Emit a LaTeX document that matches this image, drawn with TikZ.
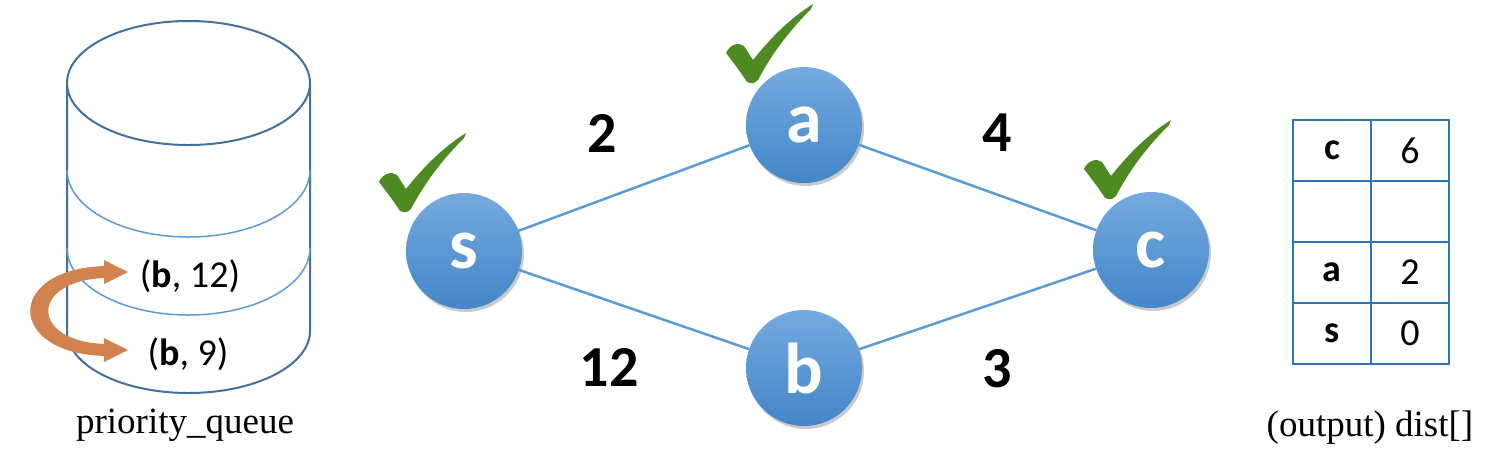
\documentclass[tikz,border=0pt]{standalone}
\usepackage{fontspec}
\setmainfont{Liberation Serif}
\newfontfamily\calfont{Carlito}
\usetikzlibrary{shadows,arrows.meta}
\definecolor{cylblue}{HTML}{41719C}
\definecolor{lineblue}{HTML}{5B9BD5}
\definecolor{tabblue}{HTML}{2E75B6}
\definecolor{topblue}{HTML}{74AADF}
\definecolor{botblue}{HTML}{4386C8}
\definecolor{chkgreen}{HTML}{4E8A22}
\definecolor{arrorange}{HTML}{D1834F}
\tikzset{
  vertex/.style={circle, minimum size=116pt, inner sep=0pt, top color=topblue, bottom color=botblue,
    drop shadow={shadow xshift=2pt, shadow yshift=-3pt, opacity=0.35, fill=black!60},
    text=white, font=\calfont\bfseries\fontsize{72}{72}\selectfont},
  edge/.style={draw=lineblue, line width=2.5pt},
  wlabel/.style={font=\calfont\bfseries\fontsize{58}{58}\selectfont, text=black},
  cell/.style={draw=tabblue, line width=2pt, minimum width=78pt, minimum height=61pt, inner sep=0pt,
    font=\calfont\fontsize{38}{38}\selectfont},
  boldcell/.style={cell, font=\calfont\bfseries\fontsize{38}{38}\selectfont},
  qtext/.style={font=\calfont\fontsize{38}{38}\selectfont},
  caption/.style={font=\fontsize{37}{37}\selectfont},
  chk/.pic={\fill[chkgreen] (0,0) .. controls (-8,12) .. (-21,29) .. controls (-17,38) and (-8,40) .. (-3,36)
     -- (6,22) .. controls (25,46) and (45,65) .. (66,78) -- (64,73)
     .. controls (38,47) and (22,23) .. (11,2) .. controls (6,-2) .. (0,0) -- cycle;}
}
\begin{document}
\begin{tikzpicture}[x=1pt,y=1pt]
\useasboundingbox (0,0) rectangle (1498,-467);
% cylinder
\draw[cylblue, line width=2pt] (67,-83) -- (67,-331) arc[start angle=180, end angle=360, x radius=121.5, y radius=62] -- (310,-83);
\draw[cylblue, line width=2pt, fill=white] (188.5,-83) ellipse[x radius=121.5, y radius=62];
\draw[lineblue, line width=1.5pt] (67,-170) arc[start angle=180, end angle=360, x radius=121.5, y radius=67];
\draw[lineblue, line width=1.5pt] (67,-248) arc[start angle=180, end angle=360, x radius=121.5, y radius=67];
\node[qtext] (q1) at (190,-276) {({\bfseries b}, 12)};
\node[qtext] (q2) at (188,-354) {({\bfseries b}, 9)};
% curved orange double arrow
\fill[arrorange] (106,-266) .. controls (5,-268) and (5,-354) .. (106,-356)
  -- (106,-344) .. controls (29,-342) and (29,-280) .. (106,-278) -- cycle;
\fill[arrorange] (104,-260) -- (128,-272) -- (104,-284) -- cycle;
\fill[arrorange] (104,-338) -- (128,-350) -- (104,-362) -- cycle;
\node[caption] (pq) at (185,-425) {priority\_queue};
% graph
\node[vertex] (s) at (464,-251) {s};
\node[vertex] (a) at (804,-125) {a};
\node[vertex] (c) at (1151,-250) {c};
\node[vertex] (b) at (804,-368) {b};
\draw[edge] (s) -- (a);
\draw[edge] (a) -- (c);
\draw[edge] (s) -- (b);
\draw[edge] (b) -- (c);
\node[wlabel] (w1) at (602,-133) {2};
\node[wlabel] (w2) at (997,-133) {4};
\node[wlabel] (w3) at (609,-367) {12};
\node[wlabel] (w4) at (997,-369) {3};
\pic at (400,-211) {chk};
\pic at (747,-82) {chk};
\pic at (1105,-198) {chk};
% table
\node[boldcell] (t11) at (1332,-150.5) {c};
\node[cell] (t12) at (1410,-150.5) {6};
\node[cell] (t21) at (1332,-211.5) {};
\node[cell] (t22) at (1410,-211.5) {};
\node[boldcell] (t31) at (1332,-272.5) {a};
\node[cell] (t32) at (1410,-272.5) {2};
\node[boldcell] (t41) at (1332,-333) {s};
\node[cell] (t42) at (1410,-333) {0};
\node[caption] (dist) at (1370,-428) {(output) dist[]};
\end{tikzpicture}
\end{document}
